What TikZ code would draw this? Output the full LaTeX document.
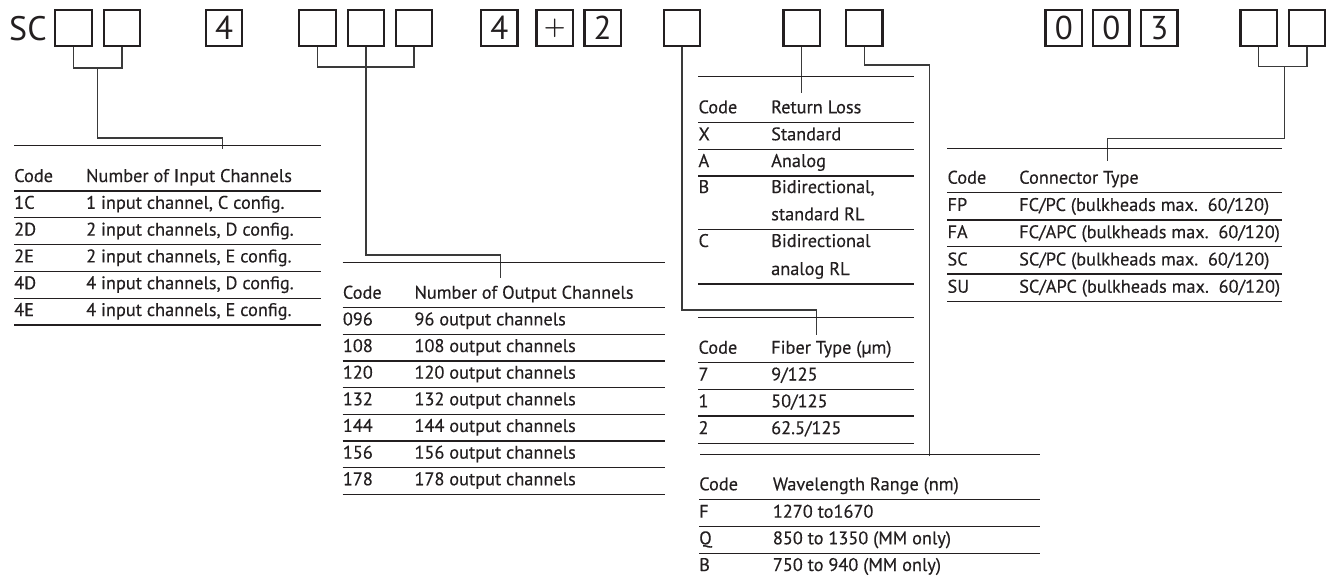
\documentclass[tikz,border=0pt]{standalone}
\usepackage{fontspec}
\setmainfont{PT Sans}
\newfontfamily\tabfont{PT Sans}[FakeBold=0.3]
\definecolor{ink}{HTML}{231F20}
\definecolor{wire}{HTML}{3A3A3A}
\tikzset{
  digitbox/.style={draw=ink, line width=2.4pt, minimum width=36.5pt, minimum height=36pt,
    inner sep=0pt, text=ink, font=\fontsize{33pt}{33pt}\selectfont},
  bigtxt/.style={anchor=base west, inner sep=0pt, text=ink, font=\fontsize{34pt}{34pt}\selectfont},
  txt/.style={anchor=base west, inner sep=0pt, text=ink, font=\tabfont\fontsize{18.3pt}{20pt}\selectfont},
  toprule/.style={draw=ink, line width=1pt},
  seprule/.style={draw=ink, line width=1.2pt},
  conn/.style={draw=wire, line width=1.2pt}
}
\begin{document}
\begin{tikzpicture}[x=1pt,y=-1pt]
\useasboundingbox (0,0) rectangle (1335,579);

% ---------- code boxes ----------
\node[bigtxt] (sc) at (9,40) {SC};
\node[digitbox] (b1)  at (73.5,28) {};
\node[digitbox] (b2)  at (122,28) {};
\node[digitbox] (b3)  at (224,28) {4};
\node[digitbox] (b4)  at (317.5,28) {};
\node[digitbox] (b5)  at (366,28) {};
\node[digitbox] (b6)  at (414,28) {};
\node[digitbox] (b7)  at (499.3,28) {4};
\node[digitbox, font=\fontsize{40pt}{40pt}\selectfont\boldmath] (b8)  at (554.7,28) {$+$};
\node[digitbox] (b9)  at (602.7,28) {2};
\node[digitbox] (b10) at (682,28) {};
\node[digitbox] (b11) at (801.7,28) {};
\node[digitbox] (b12) at (864.3,28) {};
\node[digitbox] (b13) at (1063.8,28) {0};
\node[digitbox] (b14) at (1111.3,28) {0};
\node[digitbox] (b15) at (1159.3,28) {3};
\node[digitbox] (b16) at (1258.8,28) {};
\node[digitbox] (b17) at (1307,28) {};

% ---------- connector coordinates ----------
\coordinate (j1) at (97.75,68);
\coordinate (k1) at (97.75,138);
\coordinate (e1) at (222.7,149);
\coordinate (j2) at (366,67);
\coordinate (k2) at (366,255);
\coordinate (e2) at (500.7,278.3);
\coordinate (k3) at (682,310);
\coordinate (e3) at (816.7,335);
\coordinate (e4) at (801.7,92.7);
\coordinate (k5) at (864.3,65);
\coordinate (e5) at (929.3,456);
\coordinate (j6) at (1284.3,66.7);
\coordinate (k6) at (1284.3,138.3);
\coordinate (e6) at (1107.7,161);

% ---------- connectors ----------
\draw[conn] (b1.south) -- (b1.south |- j1) -| (b2.south);
\draw[conn] (j1) -- (k1) -| (e1);
\draw[conn] (b4.south) -- (b4.south |- j2) -| (b6.south);
\draw[conn] (b5.south) -- (k2) -| (e2);
\draw[conn] (b10.south) -- (k3) -| (e3);
\draw[conn] (b11.south) -- (e4);
\draw[conn] (b12.south) -- (k5) -| (e5);
\draw[conn] (b16.south) -- (b16.south |- j6) -| (b17.south);
\draw[conn] (j6) -- (k6) -| (e6);

% ---------- table 1: input channels ----------
\draw[toprule] (14,145.7) -- (320.7,145.7);
\foreach \y in {191,217.8,244.6,271.4,298.2,325} \draw[seprule] (14,\y) -- (320.7,\y);
\node[txt] (t1h1) at (14,182) {Code};
\node[txt] (t1h2) at (86,182) {Number of Input Channels};
\foreach \c/\d [count=\i] in {1C/{1 input channel, C config.},2D/{2 input channels, D config.},
   2E/{2 input channels, E config.},4D/{4 input channels, D config.},4E/{4 input channels, E config.}}{
  \node[txt] (t1c\i) at (14,182+26.8*\i) {\c};
  \node[txt] (t1d\i) at (86,182+26.8*\i) {\d};
}

% ---------- table 2: output channels ----------
\draw[toprule] (342.7,262.7) -- (665,262.7);
\foreach \i in {0,...,7} \draw[seprule] (342.7,307.7+26.65*\i) -- (665,307.7+26.65*\i);
\node[txt] (t2h1) at (342.7,298.7) {Code};
\node[txt] (t2h2) at (414.3,298.7) {Number of Output Channels};
\foreach \c/\d [count=\i] in {096/96,108/108,120/120,132/132,144/144,156/156,178/178}{
  \node[txt] (t2c\i) at (342.7,298.7+26.65*\i) {\c};
  \node[txt] (t2d\i) at (414.3,298.7+26.65*\i) {\d\ output channels};
}

% ---------- table 3: return loss ----------
\draw[toprule] (698.3,76.7) -- (914.3,76.7);
\foreach \y in {122.3,149.3,176,229.3,284} \draw[seprule] (698.3,\y) -- (914.3,\y);
\node[txt] (t3h1) at (698.3,113.3) {Code};
\node[txt] (t3h2) at (771,113.3) {Return Loss};
\node[txt] (t3c1) at (698.3,140.3) {X};
\node[txt] (t3d1) at (771,140.3) {Standard};
\node[txt] (t3c2) at (698.3,167) {A};
\node[txt] (t3d2) at (771,167) {Analog};
\node[txt] (t3c3) at (698.3,193) {B};
\node[txt] (t3d3) at (771,193) {Bidirectional,};
\node[txt] (t3e3) at (771,220.3) {standard RL};
\node[txt] (t3c4) at (698.3,247) {C};
\node[txt] (t3d4) at (771,247) {Bidirectional};
\node[txt] (t3e4) at (771,275) {analog RL};

% ---------- table 4: fiber type ----------
\draw[toprule] (698.3,317.7) -- (914.3,317.7);
\foreach \y in {362.7,389.3,416,443.3} \draw[seprule] (698.3,\y) -- (914.3,\y);
\node[txt] (t4h1) at (698.3,353.7) {Code};
\node[txt] (t4h2) at (771,353.7) {Fiber Type (µm)};
\foreach \c/\d [count=\i] in {7/9\slash 125,1/50\slash 125,2/62.5\slash 125}{
  \node[txt] (t4c\i) at (698.3,353.7+26.8*\i) {\c};
  \node[txt] (t4d\i) at (771,353.7+26.8*\i) {\d};
}

% ---------- table 5: wavelength ----------
\draw[toprule] (700,454) -- (1040,454);
\foreach \y in {499.3,526.7,553.3} \draw[seprule] (699,\y) -- (1040,\y);
\node[txt] (t5h1) at (699,490.3) {Code};
\node[txt] (t5h2) at (772.7,490.3) {Wavelength Range (nm)};
\node[txt] (t5c1) at (699,517.7) {F};
\node[txt] (t5d1) at (772.7,517.7) {1270 to1670};
\node[txt] (t5c2) at (699,544.3) {Q};
\node[txt] (t5d2) at (772.7,544.3) {850 to 1350 (MM only)};
\node[txt] (t5c3) at (699,571) {B};
\node[txt] (t5d3) at (772.7,571) {750 to 940 (MM only)};

% ---------- table 6: connector type ----------
\draw[toprule] (947.3,148.3) -- (1281.7,148.3);
\foreach \y in {192.7,220,246.7,274,301.7} \draw[seprule] (947.3,\y) -- (1281.7,\y);
\node[txt] (t6h1) at (947.3,183.7) {Code};
\node[txt] (t6h2) at (1019,183.7) {Connector Type};
\foreach \c/\d [count=\i] in {FP/FC\slash PC,FA/FC\slash APC,SC/SC\slash PC,SU/SC\slash APC}{
  \node[txt] (t6c\i) at (947.3,183.7+27.25*\i) {\c};
  \node[txt] (t6d\i) at (1019,183.7+27.25*\i) {\d\ (bulkheads max.\ \ 60/120)};
}
\end{tikzpicture}
\end{document}
